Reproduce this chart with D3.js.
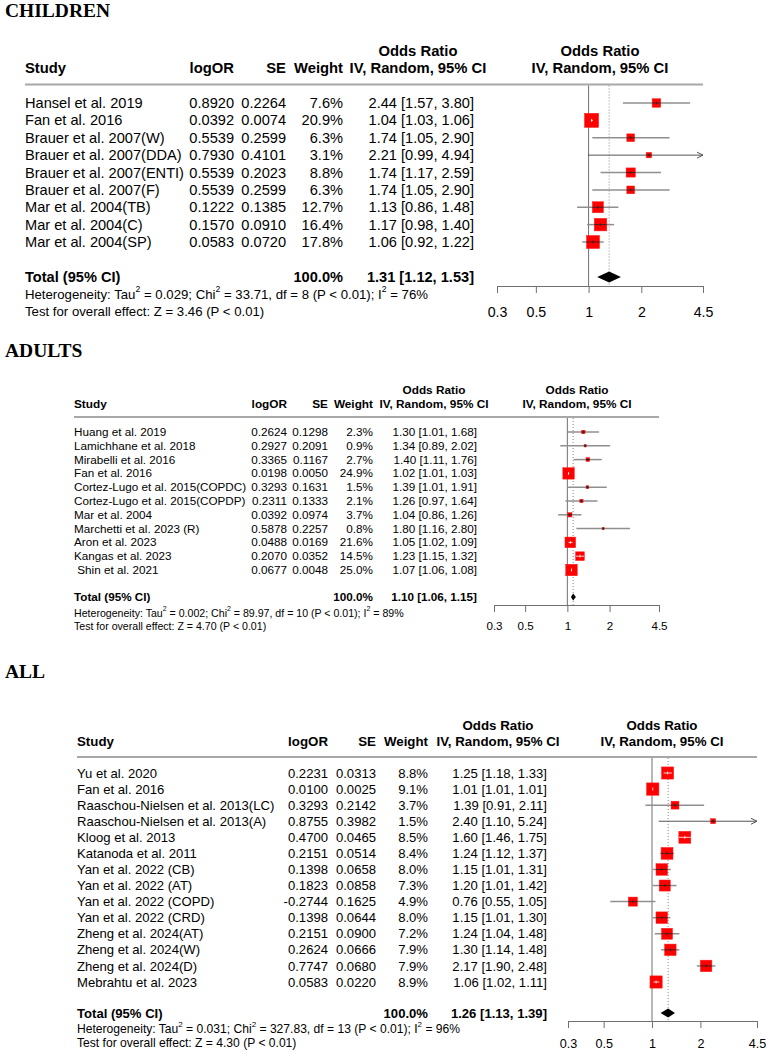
<!DOCTYPE html>
<html><head><meta charset="utf-8">
<script src="https://cdn.jsdelivr.net/npm/d3@7"></script>
<style>
body{margin:0;background:#fff}
svg text{font-family:"Liberation Sans",Arial,Helvetica,sans-serif;white-space:pre;fill:#000}
</style>
</head><body>
<svg id="chart" width="767" height="1050"></svg>
<script>
// ---------- shared ----------
const tickValues = [0.3, 0.5, 1, 2, 4.5];
const tickLabels = ["0.3", "0.5", "1", "2", "4.5"];
const panelTitles = ["CHILDREN", "ADULTS", "ALL"];

// ---------- CHILDREN ----------
const childrenStudies = ["Hansel et al. 2019", "Fan et al. 2016", "Brauer et al. 2007(W)", "Brauer et al. 2007(DDA)", "Brauer et al. 2007(ENTI)", "Brauer et al. 2007(F)", "Mar et al. 2004(TB)", "Mar et al. 2004(C)", "Mar et al. 2004(SP)"];
const childrenLogOR = [0.8920, 0.0392, 0.5539, 0.7930, 0.5539, 0.5539, 0.1222, 0.1570, 0.0583];
const childrenSE = [0.2264, 0.0074, 0.2599, 0.4101, 0.2023, 0.2599, 0.1385, 0.0910, 0.0720];
const childrenWeight = [7.6, 20.9, 6.3, 3.1, 8.8, 6.3, 12.7, 16.4, 17.8];
const childrenOR = [2.44, 1.04, 1.74, 2.21, 1.74, 1.74, 1.13, 1.17, 1.06];
const childrenLower = [1.57, 1.03, 1.05, 0.99, 1.17, 1.05, 0.86, 0.98, 0.92];
const childrenUpper = [3.80, 1.06, 2.90, 4.94, 2.59, 2.90, 1.48, 1.40, 1.22];
const childrenTotal = [1.31, 1.12, 1.53];
const childrenHet = {tau2: "0.029", chi2: "33.71", df: 8, p: "P < 0.01", i2: "76%", z: "3.46", pz: "P < 0.01"};

// ---------- ADULTS ----------
const adultsStudies = ["Huang et al. 2019", "Lamichhane et al. 2018", "Mirabelli et al. 2016", "Fan et al. 2016", "Cortez-Lugo et al. 2015(COPDC)", "Cortez-Lugo et al. 2015(COPDP)", "Mar et al. 2004", "Marchetti et al. 2023 (R)", "Aron et al. 2023", "Kangas et al. 2023", " Shin et al. 2021"];
const adultsLogOR = [0.2624, 0.2927, 0.3365, 0.0198, 0.3293, 0.2311, 0.0392, 0.5878, 0.0488, 0.2070, 0.0677];
const adultsSE = [0.1298, 0.2091, 0.1167, 0.0050, 0.1631, 0.1333, 0.0974, 0.2257, 0.0169, 0.0352, 0.0048];
const adultsWeight = [2.3, 0.9, 2.7, 24.9, 1.5, 2.1, 3.7, 0.8, 21.6, 14.5, 25.0];
const adultsOR = [1.30, 1.34, 1.40, 1.02, 1.39, 1.26, 1.04, 1.80, 1.05, 1.23, 1.07];
const adultsLower = [1.01, 0.89, 1.11, 1.01, 1.01, 0.97, 0.86, 1.16, 1.02, 1.15, 1.06];
const adultsUpper = [1.68, 2.02, 1.76, 1.03, 1.91, 1.64, 1.26, 2.80, 1.09, 1.32, 1.08];
const adultsTotal = [1.10, 1.06, 1.15];
const adultsHet = {tau2: "0.002", chi2: "89.97", df: 10, p: "P < 0.01", i2: "89%", z: "4.70", pz: "P < 0.01"};

// ---------- ALL ----------
const allStudies = ["Yu et al. 2020", "Fan et al. 2016", "Raaschou-Nielsen et al. 2013(LC)", "Raaschou-Nielsen et al. 2013(A)", "Kloog et al. 2013", "Katanoda et al. 2011", "Yan et al. 2022 (CB)", "Yan et al. 2022 (AT)", "Yan et al. 2022 (COPD)", "Yan et al. 2022 (CRD)", "Zheng et al. 2024(AT)", "Zheng et al. 2024(W)", "Zheng et al. 2024(D)", "Mebrahtu et al. 2023"];
const allLogOR = [0.2231, 0.0100, 0.3293, 0.8755, 0.4700, 0.2151, 0.1398, 0.1823, -0.2744, 0.1398, 0.2151, 0.2624, 0.7747, 0.0583];
const allSE = [0.0313, 0.0025, 0.2142, 0.3982, 0.0465, 0.0514, 0.0658, 0.0858, 0.1625, 0.0644, 0.0900, 0.0666, 0.0680, 0.0220];
const allWeight = [8.8, 9.1, 3.7, 1.5, 8.5, 8.4, 8.0, 7.3, 4.9, 8.0, 7.2, 7.9, 7.9, 8.9];
const allOR = [1.25, 1.01, 1.39, 2.40, 1.60, 1.24, 1.15, 1.20, 0.76, 1.15, 1.24, 1.30, 2.17, 1.06];
const allLower = [1.18, 1.01, 0.91, 1.10, 1.46, 1.12, 1.01, 1.01, 0.55, 1.01, 1.04, 1.14, 1.90, 1.02];
const allUpper = [1.33, 1.01, 2.11, 5.24, 1.75, 1.37, 1.31, 1.42, 1.05, 1.30, 1.48, 1.48, 2.48, 1.11];
const allTotal = [1.26, 1.13, 1.39];
const allHet = {tau2: "0.031", chi2: "327.83", df: 13, p: "P < 0.01", i2: "96%", z: "4.30", pz: "P < 0.01"};

// ---------- layouts (positions only) ----------
const layouts = [
  {titleY: 17, h1: 51, h2: 68, lineY: 84.5, x0: 25, rowTop: 103, rowBot: 242, totY: 277, hetY: 294, testY: 311,
   logR: 234, seR: 286, wR: 343, orR: 474, orH: 418, px0: 497, px1: 703, axisY: 286, tickPad: 14, rightH: 600,
   fs: 14.6, hfs: 14.8, ffs: 13.2, afs: 14.2, k: 3.1, dh: 5.5},
  {titleY: 357, h1: 390, h2: 404, lineY: 417, x0: 74, rowTop: 432, rowBot: 570, totY: 597, hetY: 613, testY: 626,
   logR: 287, seR: 328, wR: 373, orR: 477, orH: 434, px0: 494, px1: 659, axisY: 605, tickPad: 10, rightH: 577,
   fs: 11.7, hfs: 11.8, ffs: 10.6, afs: 11.6, k: 2.3, dh: 3.5},
  {titleY: 678, h1: 725, h2: 741, lineY: 757, x0: 77, rowTop: 773, rowBot: 982, totY: 1013, hetY: 1029, testY: 1043,
   logR: 328, seR: 376, wR: 428, orR: 547, orH: 498, px0: 568, px1: 757, axisY: 1021, tickPad: 11, rightH: 662,
   fs: 13.1, hfs: 13.3, ffs: 12.1, afs: 12.6, k: 4.1, dh: 4.5}
];

const panels = [
  {studies: childrenStudies, logor: childrenLogOR, se: childrenSE, w: childrenWeight, or: childrenOR, lo: childrenLower, hi: childrenUpper, total: childrenTotal, het: childrenHet},
  {studies: adultsStudies, logor: adultsLogOR, se: adultsSE, w: adultsWeight, or: adultsOR, lo: adultsLower, hi: adultsUpper, total: adultsTotal, het: adultsHet},
  {studies: allStudies, logor: allLogOR, se: allSE, w: allWeight, or: allOR, lo: allLower, hi: allUpper, total: allTotal, het: allHet}
];

const svg = d3.select("#chart");
const f2 = v => v.toFixed(2);
const f4 = v => v.toFixed(4);
const ciText = (o, l, h) => `${f2(o)} [${f2(l)}, ${f2(h)}]`;

function txt(g, x, y, s, fs, anchor, bold) {
  return g.append("text").attr("x", x).attr("y", y).attr("dy", "0.35em")
    .attr("xml:space", "preserve")
    .attr("font-size", fs).attr("text-anchor", anchor || "start")
    .attr("font-weight", bold ? "bold" : "normal").text(s);
}

// draws a line of text where some pieces are superscripts, as separate text nodes
function supLine(g, x, y, parts, fs) {
  let cx = x;
  parts.forEach(p => {
    let t;
    if (typeof p === "object") {
      t = g.append("text").attr("x", cx).attr("y", y - fs * 0.42).attr("dy", "0.35em")
        .attr("font-size", fs * 0.66).text(p.sup);
    } else {
      t = g.append("text").attr("x", cx).attr("y", y).attr("dy", "0.35em")
        .attr("xml:space", "preserve").attr("font-size", fs).text(p);
    }
    cx += t.node().getComputedTextLength();
  });
}

panels.forEach((d, pi) => {
  const L = layouts[pi];
  const g = svg.append("g");
  const n = d.studies.length;

  // title
  g.append("text").attr("x", 5).attr("y", L.titleY)
    .style("font-family", "'Liberation Serif','Times New Roman',serif")
    .attr("font-size", 19.5).attr("font-weight", "bold").text(panelTitles[pi]);

  // headers
  txt(g, L.orH, L.h1, "Odds Ratio", L.hfs, "middle", true);
  txt(g, L.orH, L.h2, "IV, Random, 95% CI", L.hfs, "middle", true);
  txt(g, L.rightH, L.h1, "Odds Ratio", L.hfs, "middle", true);
  txt(g, L.rightH, L.h2, "IV, Random, 95% CI", L.hfs, "middle", true);
  txt(g, L.x0, L.h2, "Study", L.hfs, "start", true);
  txt(g, L.logR, L.h2, "logOR", L.hfs, "end", true);
  txt(g, L.seR, L.h2, "SE", L.hfs, "end", true);
  txt(g, L.wR, L.h2, "Weight", L.hfs, "end", true);

  g.append("line").attr("x1", L.x0).attr("x2", L.px1).attr("y1", L.lineY).attr("y2", L.lineY)
    .attr("stroke", "#a8a8a8").attr("stroke-width", 2);

  const y = d3.scalePoint().domain(d3.range(n)).range([L.rowTop, L.rowBot]);
  const x = d3.scaleLog().domain([tickValues[0], tickValues[tickValues.length - 1]]).range([L.px0, L.px1]);

  // table rows
  d3.range(n).forEach(i => {
    const yy = y(i);
    txt(g, L.x0, yy, d.studies[i], L.fs, "start");
    txt(g, L.logR, yy, f4(d.logor[i]), L.fs, "end");
    txt(g, L.seR, yy, f4(d.se[i]), L.fs, "end");
    txt(g, L.wR, yy, d.w[i].toFixed(1) + "%", L.fs, "end");
    txt(g, L.orR, yy, ciText(d.or[i], d.lo[i], d.hi[i]), L.fs, "end");
  });

  // total
  txt(g, L.x0, L.totY, "Total (95% CI)", L.fs, "start", true);
  txt(g, L.wR, L.totY, "100.0%", L.fs, "end", true);
  txt(g, L.orR, L.totY, ciText(d.total[0], d.total[1], d.total[2]), L.fs, "end", true);

  const h = d.het;
  supLine(g, L.x0, L.hetY, ["Heterogeneity: Tau", {sup: "2"}, ` = ${h.tau2}; Chi`, {sup: "2"}, ` = ${h.chi2}, df = ${h.df} (${h.p}); I`, {sup: "2"}, ` = ${h.i2}`], L.ffs);
  txt(g, L.x0, L.testY, `Test for overall effect: Z = ${h.z} (${h.pz})`, L.ffs, "start");

  // reference lines
  g.append("line").attr("x1", x(1)).attr("x2", x(1)).attr("y1", L.lineY + 1).attr("y2", L.axisY)
    .attr("stroke", "#707070").attr("stroke-width", 1);
  g.append("line").attr("x1", x(d.total[0])).attr("x2", x(d.total[0])).attr("y1", L.lineY + 1).attr("y2", L.axisY)
    .attr("stroke", "#888").attr("stroke-width", 1).attr("stroke-dasharray", "1,2");

  // axis
  const axis = d3.axisBottom(x).tickValues(tickValues).tickFormat((v, i) => tickLabels[i])
    .tickSize(7).tickSizeOuter(0).tickPadding(L.tickPad);
  const ag = g.append("g").attr("transform", `translate(0,${L.axisY})`).call(axis);
  ag.selectAll("path,line").attr("stroke", "#707070").attr("stroke-width", 1);
  ag.selectAll("text").attr("font-size", L.afs).attr("fill", "#000")
    .style("font-family", "'Liberation Sans',Arial,sans-serif");

  // study marks
  const xmax = tickValues[tickValues.length - 1];
  d3.range(n).forEach(i => {
    const yy = y(i);
    const xo = x(d.or[i]);
    const arrow = d.hi[i] > xmax;
    const xl = x(d.lo[i]);
    const xh = x(Math.min(d.hi[i], xmax));
    const s = L.k * Math.sqrt(d.w[i]);
    g.append("line").attr("x1", xl).attr("x2", xh).attr("y1", yy).attr("y2", yy)
      .attr("stroke", arrow ? "#555" : "#8f8f8f").attr("stroke-width", arrow ? 1 : 1.5);
    if (arrow) {
      g.append("path").attr("d", `M${xh - 6},${yy - 3}L${xh},${yy}L${xh - 6},${yy + 3}`)
        .attr("fill", "none").attr("stroke", "#555").attr("stroke-width", 1);
    }
    g.append("rect").attr("x", xo - s / 2).attr("y", yy - s / 2).attr("width", s).attr("height", s)
      .attr("fill", "#ff0000").attr("stroke", "#f22").attr("stroke-width", 0.5);
    const inside = (xl >= xo - s / 2 - 0.5) && (xh <= xo + s / 2 + 0.5);
    const col = inside ? "#fff" : "#222";
    g.append("line").attr("x1", Math.max(xl, xo - s / 2)).attr("x2", Math.min(xh, xo + s / 2))
      .attr("y1", yy).attr("y2", yy).attr("stroke", col).attr("stroke-width", 0.8);
    g.append("line").attr("x1", xo).attr("x2", xo).attr("y1", yy - 1.5).attr("y2", yy + 1.5)
      .attr("stroke", col).attr("stroke-width", 0.8);
  });

  // diamond
  const [to, tl, th] = d.total;
  g.append("path")
    .attr("d", `M${x(tl)},${L.totY}L${x(to)},${L.totY - L.dh}L${x(th)},${L.totY}L${x(to)},${L.totY + L.dh}Z`)
    .attr("fill", "#000");
});
</script>
</body></html>
